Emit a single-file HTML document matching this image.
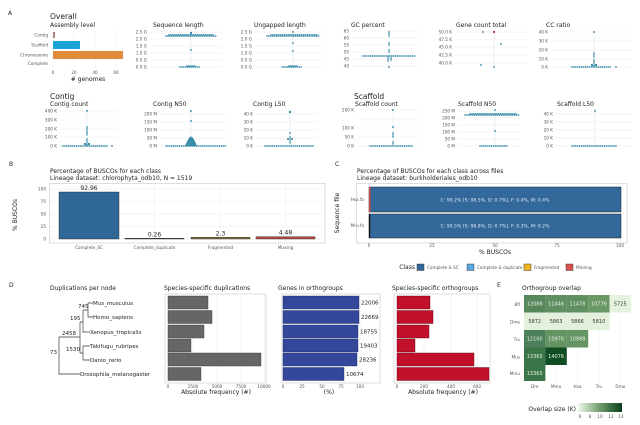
<!DOCTYPE html>
<html><head><meta charset="utf-8"><style>
html,body{margin:0;padding:0;background:#fff;}
svg{display:block;font-family:"DejaVu Sans","Liberation Sans",sans-serif;}
.t{font-size:4.2px;fill:#555;}
.tr{font-size:4.2px;fill:#555;text-anchor:end;}
.ti{font-size:6px;fill:#222;}
.h{font-size:7.5px;fill:#222;}
.g{stroke:#ececec;stroke-width:0.5;}
.d{stroke:#3b8eaa;stroke-width:1.7;stroke-linecap:round;stroke-dasharray:0.01 1.9;fill:none;}
.v{stroke:#d8e6ec;stroke-width:0.5;}
.p{fill:#2a7f9e;}
.tree{stroke:#666;stroke-width:0.9;fill:none;}
.lab{font-size:5.5px;fill:#222;}
.cell{font-size:5px;text-anchor:middle;}
</style></head><body>
<svg width="640" height="425" viewBox="0 0 640 425">
<!-- ===== A ===== -->
<text x="8" y="15" class="ti" font-size="6">A</text>
<text x="50" y="19" class="h">Overall</text>
<text x="50" y="27" class="ti">Assembly level</text>
<g class="g"><line x1="53" y1="30" x2="53" y2="68"/><line x1="74" y1="30" x2="74" y2="68"/><line x1="95" y1="30" x2="95" y2="68"/><line x1="116" y1="30" x2="116" y2="68"/></g>
<rect x="53" y="32" width="2" height="6" fill="#b08878"/>
<rect x="53" y="41" width="27" height="8" fill="#1ba3d9"/>
<rect x="53" y="51" width="70" height="8" fill="#e08a3c"/>
<text x="48" y="36.5" class="tr">Contig</text>
<text x="48" y="46.5" class="tr">Scaffold</text>
<text x="48" y="56.5" class="tr">Chromosome</text>
<text x="48" y="65" class="tr">Complete</text>
<text x="53" y="74" class="t" text-anchor="middle">0</text><text x="74" y="74" class="t" text-anchor="middle">20</text><text x="95" y="74" class="t" text-anchor="middle">40</text><text x="116" y="74" class="t" text-anchor="middle">60</text>
<text x="88" y="81" class="ti" font-size="5.5" text-anchor="middle"># genomes</text>

<!-- Sequence length -->
<text x="153" y="27" class="ti">Sequence length</text>
<g class="g"><line x1="150" y1="32" x2="222" y2="32"/><line x1="150" y1="39" x2="222" y2="39"/><line x1="150" y1="46" x2="222" y2="46"/><line x1="150" y1="53" x2="222" y2="53"/><line x1="150" y1="60" x2="222" y2="60"/><line x1="150" y1="67" x2="222" y2="67"/></g>
<line class="v" x1="191" y1="30" x2="191" y2="68"/>
<text x="147" y="33.5" class="tr">2.5 G</text><text x="147" y="40.5" class="tr">2.0 G</text><text x="147" y="47.5" class="tr">1.5 G</text><text x="147" y="54.5" class="tr">1.0 G</text><text x="147" y="61.5" class="tr">0.5 G</text><text x="147" y="68.5" class="tr">0.0 G</text>
<line class="d" x1="166" y1="36" x2="217" y2="36"/><line class="d" x1="169" y1="34.8" x2="214" y2="34.8"/>
<line class="d" x1="180" y1="67" x2="201" y2="67"/><line class="d" x1="187" y1="66" x2="195" y2="66"/>
<circle class="p" cx="191" cy="33" r="1.1"/><circle class="p" cx="191" cy="50" r="0.9"/>

<!-- Ungapped -->
<text x="254" y="27" class="ti">Ungapped length</text>
<g class="g"><line x1="255" y1="32" x2="322" y2="32"/><line x1="255" y1="39" x2="322" y2="39"/><line x1="255" y1="46" x2="322" y2="46"/><line x1="255" y1="53" x2="322" y2="53"/><line x1="255" y1="60" x2="322" y2="60"/><line x1="255" y1="67" x2="322" y2="67"/></g>
<line class="v" x1="293" y1="30" x2="293" y2="68"/>
<text x="252" y="33.5" class="tr">2.5 G</text><text x="252" y="40.5" class="tr">2.0 G</text><text x="252" y="47.5" class="tr">1.5 G</text><text x="252" y="54.5" class="tr">1.0 G</text><text x="252" y="61.5" class="tr">0.5 G</text><text x="252" y="68.5" class="tr">0.0 G</text>
<line class="d" x1="267" y1="36" x2="320" y2="36"/><line class="d" x1="271" y1="34.8" x2="317" y2="34.8"/>
<line class="d" x1="282" y1="67" x2="303" y2="67"/><line class="d" x1="289" y1="66" x2="297" y2="66"/>
<circle class="p" cx="293" cy="32" r="0.9"/><circle class="p" cx="293" cy="43" r="0.9"/><circle class="p" cx="293" cy="51" r="0.9"/>

<!-- GC percent -->
<text x="351" y="27" class="ti">GC percent</text>
<g class="g"><line x1="352" y1="31" x2="418" y2="31"/><line x1="352" y1="38" x2="418" y2="38"/><line x1="352" y1="45" x2="418" y2="45"/><line x1="352" y1="52" x2="418" y2="52"/><line x1="352" y1="59" x2="418" y2="59"/><line x1="352" y1="66" x2="418" y2="66"/></g>
<line class="v" x1="389" y1="30" x2="389" y2="68"/>
<text x="349" y="32.5" class="tr">65</text><text x="349" y="39.5" class="tr">60</text><text x="349" y="46.5" class="tr">55</text><text x="349" y="53.5" class="tr">50</text><text x="349" y="60.5" class="tr">45</text><text x="349" y="67.5" class="tr">40</text>
<line class="d" x1="363" y1="56" x2="415" y2="56"/>
<line class="d" x1="389" y1="32" x2="389" y2="36"/><line class="d" x1="389" y1="43" x2="389" y2="46"/><line class="d" x1="389" y1="50" x2="389" y2="53"/><line class="d" x1="388" y1="57" x2="388" y2="62"/><line class="d" x1="391" y1="58" x2="391" y2="61"/>
<circle class="p" cx="389" cy="67" r="0.9"/>

<!-- Gene count total -->
<text x="456" y="27" class="ti">Gene count total</text>
<g class="g"><line x1="455" y1="32" x2="528" y2="32"/><line x1="455" y1="39.5" x2="528" y2="39.5"/><line x1="455" y1="47" x2="528" y2="47"/><line x1="455" y1="55" x2="528" y2="55"/><line x1="455" y1="63" x2="528" y2="63"/></g>
<line class="v" x1="494" y1="30" x2="494" y2="68"/>
<text x="452" y="33.5" class="tr">50.0 K</text><text x="452" y="41" class="tr">47.5 K</text><text x="452" y="48.5" class="tr">45.0 K</text><text x="452" y="56.5" class="tr">42.5 K</text><text x="452" y="64.5" class="tr">40.0 K</text>
<circle class="p" cx="483" cy="32" r="0.9"/><circle cx="494" cy="32" r="1.1" fill="#c0303a"/><circle class="p" cx="501" cy="44" r="0.9"/><circle class="p" cx="481" cy="65" r="0.9"/><circle class="p" cx="494" cy="67" r="0.9"/>

<!-- CC ratio -->
<text x="546" y="27" class="ti">CC ratio</text>
<g class="g"><line x1="551" y1="32" x2="632" y2="32"/><line x1="551" y1="41" x2="632" y2="41"/><line x1="551" y1="50" x2="632" y2="50"/><line x1="551" y1="59" x2="632" y2="59"/><line x1="551" y1="67" x2="632" y2="67"/></g>
<line class="v" x1="594" y1="30" x2="594" y2="68"/>
<text x="548" y="33.5" class="tr">40 K</text><text x="548" y="42.5" class="tr">30 K</text><text x="548" y="51.5" class="tr">20 K</text><text x="548" y="60.5" class="tr">10 K</text><text x="548" y="68.5" class="tr">0 K</text>
<line class="d" x1="572" y1="67" x2="612" y2="67"/><circle class="p" cx="616" cy="67" r="0.9"/>
<line class="d" x1="594" y1="60" x2="594" y2="66"/><line class="d" x1="594" y1="53" x2="594" y2="57"/><circle class="p" cx="594" cy="32" r="0.9"/><circle class="p" cx="596" cy="65" r="1.1"/><circle class="p" cx="592" cy="65" r="1.1"/>

<!-- Row 2 -->
<text x="50" y="99" class="h">Contig</text>
<text x="50" y="106" class="ti">Contig count</text>
<g class="g"><line x1="60" y1="111" x2="118" y2="111"/><line x1="60" y1="120" x2="118" y2="120"/><line x1="60" y1="129" x2="118" y2="129"/><line x1="60" y1="137" x2="118" y2="137"/><line x1="60" y1="146" x2="118" y2="146"/></g>
<line class="v" x1="87" y1="109" x2="87" y2="147"/>
<text x="57" y="112.5" class="tr">400 K</text><text x="57" y="121.5" class="tr">300 K</text><text x="57" y="130.5" class="tr">200 K</text><text x="57" y="138.5" class="tr">100 K</text><text x="57" y="147.5" class="tr">0 K</text>
<line class="d" x1="63" y1="146" x2="108" y2="146"/><circle class="p" cx="112" cy="146" r="0.9"/>
<line class="d" x1="87" y1="127" x2="87" y2="135"/><line class="d" x1="87" y1="139" x2="87" y2="145"/><circle class="p" cx="87" cy="111" r="0.9"/><circle class="p" cx="89" cy="144" r="1.1"/><circle class="p" cx="85" cy="144" r="1.1"/>

<text x="153" y="106" class="ti">Contig N50</text>
<g class="g"><line x1="160" y1="114" x2="228" y2="114"/><line x1="160" y1="122" x2="228" y2="122"/><line x1="160" y1="130" x2="228" y2="130"/><line x1="160" y1="138" x2="228" y2="138"/><line x1="160" y1="146" x2="228" y2="146"/></g>
<line class="v" x1="191" y1="109" x2="191" y2="147"/>
<text x="157" y="115.5" class="tr">200 M</text><text x="157" y="123.5" class="tr">150 M</text><text x="157" y="131.5" class="tr">100 M</text><text x="157" y="139.5" class="tr">50 M</text><text x="157" y="147.5" class="tr">0 M</text>
<line class="d" x1="166" y1="146" x2="226" y2="146"/>
<path d="M185 146 Q187 141 189 138 Q191 135 193 138 Q195 141 197 146 Z" fill="#3b8eaa"/>
<circle class="p" cx="191" cy="111" r="0.9"/><circle class="p" cx="191" cy="121" r="0.9"/>

<text x="253" y="106" class="ti">Contig L50</text>
<g class="g"><line x1="256" y1="114" x2="318" y2="114"/><line x1="256" y1="122" x2="318" y2="122"/><line x1="256" y1="130" x2="318" y2="130"/><line x1="256" y1="138" x2="318" y2="138"/><line x1="256" y1="146" x2="318" y2="146"/></g>
<line class="v" x1="290" y1="109" x2="290" y2="147"/>
<text x="253" y="115.5" class="tr">40 K</text><text x="253" y="123.5" class="tr">30 K</text><text x="253" y="131.5" class="tr">20 K</text><text x="253" y="139.5" class="tr">10 K</text><text x="253" y="147.5" class="tr">0 K</text>
<line class="d" x1="265" y1="146" x2="313" y2="146"/>
<circle class="p" cx="290" cy="112" r="1.1"/><circle class="p" cx="290" cy="133" r="0.9"/><line class="d" x1="290" y1="137" x2="290" y2="144"/><circle class="p" cx="288" cy="139" r="1"/><circle class="p" cx="292" cy="139" r="1"/>

<text x="354" y="99" class="h">Scaffold</text>
<text x="355" y="106" class="ti">Scaffold count</text>
<g class="g"><line x1="357" y1="110" x2="418" y2="110"/><line x1="357" y1="119" x2="418" y2="119"/><line x1="357" y1="128" x2="418" y2="128"/><line x1="357" y1="137" x2="418" y2="137"/><line x1="357" y1="146" x2="418" y2="146"/></g>
<line class="v" x1="393" y1="109" x2="393" y2="147"/>
<text x="354" y="111.5" class="tr">200 K</text><text x="354" y="129.5" class="tr">100 K</text><text x="354" y="138.5" class="tr">50 K</text><text x="354" y="147.5" class="tr">0 K</text>
<line class="d" x1="370" y1="146" x2="413" y2="146"/>
<circle class="p" cx="393" cy="110" r="0.9"/><circle class="p" cx="393" cy="127" r="0.9"/><line class="d" x1="393" y1="133" x2="393" y2="137"/><line class="d" x1="393" y1="142" x2="393" y2="145"/>

<text x="458" y="106" class="ti">Scaffold N50</text>
<g class="g"><line x1="458" y1="111" x2="520" y2="111"/><line x1="458" y1="118" x2="520" y2="118"/><line x1="458" y1="125" x2="520" y2="125"/><line x1="458" y1="132" x2="520" y2="132"/><line x1="458" y1="139" x2="520" y2="139"/><line x1="458" y1="146" x2="520" y2="146"/></g>
<line class="v" x1="495" y1="109" x2="495" y2="147"/>
<text x="455" y="112.5" class="tr">250 M</text><text x="455" y="119.5" class="tr">200 M</text><text x="455" y="126.5" class="tr">150 M</text><text x="455" y="133.5" class="tr">100 M</text><text x="455" y="140.5" class="tr">50 M</text><text x="455" y="147.5" class="tr">0 M</text>
<line class="d" x1="465" y1="115" x2="520" y2="115"/><line class="d" x1="470" y1="113.8" x2="516" y2="113.8"/>
<line class="d" x1="480" y1="146" x2="507" y2="146"/><circle class="p" cx="495" cy="131" r="0.9"/><circle class="p" cx="495" cy="110" r="0.9"/>

<text x="557" y="106" class="ti">Scaffold L50</text>
<g class="g"><line x1="556" y1="114" x2="632" y2="114"/><line x1="556" y1="122" x2="632" y2="122"/><line x1="556" y1="130" x2="632" y2="130"/><line x1="556" y1="138" x2="632" y2="138"/><line x1="556" y1="146" x2="632" y2="146"/></g>
<line class="v" x1="595" y1="109" x2="595" y2="147"/>
<text x="553" y="115.5" class="tr">40 K</text><text x="553" y="123.5" class="tr">30 K</text><text x="553" y="131.5" class="tr">20 K</text><text x="553" y="139.5" class="tr">10 K</text><text x="553" y="147.5" class="tr">0 K</text>
<line class="d" x1="572" y1="146" x2="617" y2="146"/><circle class="p" cx="595" cy="111" r="0.9"/>

<!-- ===== B ===== -->
<text x="9" y="166" class="ti">B</text>
<text x="50" y="173" class="ti">Percentage of BUSCOs for each class</text>
<text x="50" y="180" class="ti" font-size="4.6">Lineage dataset: chlorophyta_odb10, N = 1519</text>
<rect x="49.5" y="183.5" width="275.5" height="59.5" fill="#fff" stroke="#c8c8c8" stroke-width="0.6"/>
<g class="g"><line x1="50" y1="189" x2="325" y2="189"/><line x1="50" y1="201.5" x2="325" y2="201.5"/><line x1="50" y1="214" x2="325" y2="214"/><line x1="50" y1="226.5" x2="325" y2="226.5"/><line x1="50" y1="239" x2="325" y2="239"/>
<line x1="89" y1="184" x2="89" y2="243"/><line x1="154.5" y1="184" x2="154.5" y2="243"/><line x1="220.5" y1="184" x2="220.5" y2="243"/><line x1="285.5" y1="184" x2="285.5" y2="243"/></g>
<text x="46" y="190.5" class="tr">100</text><text x="46" y="203" class="tr">75</text><text x="46" y="215.5" class="tr">50</text><text x="46" y="228" class="tr">25</text><text x="46" y="240.5" class="tr">0</text>
<text transform="translate(17,215) rotate(-90)" class="ti" font-size="5" text-anchor="middle">% BUSCOs</text>
<rect x="59" y="192" width="60" height="47" fill="#2f6797" stroke="#222" stroke-width="0.4"/>
<rect x="125" y="238.2" width="59" height="0.8" fill="#3c5474" stroke="#222" stroke-width="0.4"/>
<rect x="191" y="237.3" width="59" height="1.7" fill="#8a6a30" stroke="#222" stroke-width="0.4"/>
<rect x="256" y="236.7" width="59" height="2.3" fill="#b5463b" stroke="#222" stroke-width="0.4"/>
<text x="89" y="190" class="ti" font-size="5.2" text-anchor="middle">92.96</text>
<text x="154.5" y="236.5" class="ti" font-size="5.2" text-anchor="middle">0.26</text>
<text x="220.5" y="235.5" class="ti" font-size="5.2" text-anchor="middle">2.3</text>
<text x="285.5" y="234.5" class="ti" font-size="5.2" text-anchor="middle">4.48</text>
<text x="89" y="249" class="t" text-anchor="middle">Complete_SC</text><text x="154.5" y="249" class="t" text-anchor="middle">Complete_duplicate</text><text x="220.5" y="249" class="t" text-anchor="middle">Fragmented</text><text x="285.5" y="249" class="t" text-anchor="middle">Missing</text>

<!-- ===== C ===== -->
<text x="335" y="166" class="ti">C</text>
<text x="357" y="173" class="ti">Percentage of BUSCOs for each class across files</text>
<text x="357" y="180" class="ti" font-size="4.6">Lineage dataset: burkholderiales_odb10</text>
<rect x="356.5" y="183.5" width="270.5" height="59.5" fill="#fff" stroke="#c8c8c8" stroke-width="0.6"/>
<g class="g"><line x1="369" y1="184" x2="369" y2="243"/><line x1="432" y1="184" x2="432" y2="243"/><line x1="495" y1="184" x2="495" y2="243"/><line x1="557" y1="184" x2="557" y2="243"/><line x1="620" y1="184" x2="620" y2="243"/></g>
<rect x="369" y="187" width="252" height="25" fill="#33689b" stroke="#222" stroke-width="0.5"/>
<rect x="369" y="187" width="1.5" height="25" fill="#c84a3e"/>
<rect x="369" y="214" width="252" height="24" fill="#33689b" stroke="#222" stroke-width="0.5"/>
<rect x="369" y="214" width="1.2" height="24" fill="#111"/>
<text x="495" y="201.5" font-size="4.6" fill="#dfe8f2" text-anchor="middle">C: 99.2% [S: 98.5%, D: 0.7%], F: 0.4%, M: 0.4%</text>
<text x="495" y="227.5" font-size="4.6" fill="#dfe8f2" text-anchor="middle">C: 99.5% [S: 98.8%, D: 0.7%], F: 0.3%, M: 0.2%</text>
<text x="364" y="201" class="tr">Hsa.fa</text><text x="364" y="227" class="tr">Mru.fa</text>
<text transform="translate(339,213) rotate(-90)" class="ti" font-size="5" text-anchor="middle">Sequence file</text>
<text x="369" y="247" class="t" text-anchor="middle">0</text><text x="432" y="247" class="t" text-anchor="middle">25</text><text x="495" y="247" class="t" text-anchor="middle">50</text><text x="557" y="247" class="t" text-anchor="middle">75</text><text x="620" y="247" class="t" text-anchor="middle">100</text>
<text x="495" y="254" class="ti" font-size="5" text-anchor="middle">% BUSCOs</text>
<text x="415" y="269" class="ti" font-size="4.8" text-anchor="end">Class</text>
<rect x="417" y="264" width="7" height="6.5" fill="#33689b" stroke="#222" stroke-width="0.4"/><text x="427" y="269" class="t" font-size="3.8">Complete &amp; SC</text>
<rect x="467" y="264" width="7" height="6.5" fill="#5aa7de" stroke="#222" stroke-width="0.4"/><text x="477" y="269" class="t" font-size="3.8">Complete &amp; duplicate</text>
<rect x="524" y="264" width="7" height="6.5" fill="#f0b323" stroke="#222" stroke-width="0.4"/><text x="534" y="269" class="t" font-size="3.8">Fragmented</text>
<rect x="566" y="264" width="7" height="6.5" fill="#d9534f" stroke="#222" stroke-width="0.4"/><text x="576" y="269" class="t" font-size="3.8">Missing</text>

<!-- ===== D ===== -->
<text x="9" y="287" class="ti">D</text>
<text x="50" y="290" class="ti">Duplications per node</text>
<path class="tree" d="M59 337V374H80M59 337H80M80 322V353M80 322H83M83 310V332H90M83 310H88M88 303V317M88 303H93M88 317H93M80 353H83M83 346V360M83 346H90M83 360H90"/>
<text x="93" y="305" class="lab">Mus_musculus</text>
<text x="93" y="319" class="lab">Homo_sapiens</text>
<text x="90" y="334" class="lab">Xenopus_tropicalis</text>
<text x="90" y="348" class="lab">Takifugu_rubripes</text>
<text x="90" y="362" class="lab">Danio_rerio</text>
<text x="80" y="376" class="lab">Drosophila_melanogaster</text>
<text x="78" y="308" class="lab">745</text>
<text x="70" y="320" class="lab">195</text>
<text x="62" y="335" class="lab">2458</text>
<text x="66" y="351" class="lab">1530</text>
<text x="50" y="354" class="lab">73</text>

<!-- dup bars -->
<text x="164" y="290" class="ti">Species-specific duplications</text>
<rect x="165" y="294" width="101" height="89" fill="#fff" stroke="#c8c8c8" stroke-width="0.6"/>
<g class="g"><line x1="168" y1="294" x2="168" y2="383"/><line x1="193" y1="294" x2="193" y2="383"/><line x1="217" y1="294" x2="217" y2="383"/><line x1="241" y1="294" x2="241" y2="383"/><line x1="265" y1="294" x2="265" y2="383"/></g>
<g fill="#666" stroke="#333" stroke-width="0.4">
<rect x="168" y="296" width="40" height="13"/><rect x="168" y="310.5" width="44" height="13"/><rect x="168" y="325" width="36" height="13"/><rect x="168" y="339" width="23" height="13"/><rect x="168" y="353" width="93" height="13"/><rect x="168" y="367.5" width="33" height="13"/></g>
<text x="168" y="388" class="t" text-anchor="middle">0</text><text x="193" y="388" class="t" text-anchor="middle">2500</text><text x="217" y="388" class="t" text-anchor="middle">5000</text><text x="241" y="388" class="t" text-anchor="middle">7500</text><text x="264" y="388" class="t" text-anchor="middle">10000</text>
<text x="216" y="394" class="ti" font-size="5" text-anchor="middle">Absolute frequency (#)</text>

<!-- genes in orthogroups -->
<text x="278" y="290" class="ti">Genes in orthogroups</text>
<rect x="282" y="294" width="98" height="89" fill="#fff" stroke="#c8c8c8" stroke-width="0.6"/>
<g class="g"><line x1="283" y1="294" x2="283" y2="383"/><line x1="302" y1="294" x2="302" y2="383"/><line x1="322" y1="294" x2="322" y2="383"/><line x1="341" y1="294" x2="341" y2="383"/><line x1="360" y1="294" x2="360" y2="383"/></g>
<g fill="#34479a" stroke="#1c2660" stroke-width="0.4">
<rect x="283" y="296" width="76" height="13"/><rect x="283" y="310.5" width="76" height="13"/><rect x="283" y="325" width="75" height="13"/><rect x="283" y="339" width="75" height="13"/><rect x="283" y="353" width="74" height="13"/><rect x="283" y="367.5" width="61" height="13"/></g>
<g class="lab" font-size="5"><text x="361" y="304.5">22006</text><text x="361" y="319">22669</text><text x="360" y="333.5">18755</text><text x="360" y="347.5">19403</text><text x="359" y="361.5">28236</text><text x="346" y="376">10674</text></g>
<text x="283" y="388" class="t" text-anchor="middle">0</text><text x="302" y="388" class="t" text-anchor="middle">25</text><text x="322" y="388" class="t" text-anchor="middle">50</text><text x="341" y="388" class="t" text-anchor="middle">75</text><text x="360" y="388" class="t" text-anchor="middle">100</text>
<text x="329" y="394" class="ti" font-size="5" text-anchor="middle">(%)</text>

<!-- species-specific orthogroups -->
<text x="392" y="290" class="ti">Species-specific orthogroups</text>
<rect x="394" y="294" width="96" height="89" fill="#fff" stroke="#c8c8c8" stroke-width="0.6"/>
<g class="g"><line x1="397" y1="294" x2="397" y2="383"/><line x1="424" y1="294" x2="424" y2="383"/><line x1="451" y1="294" x2="451" y2="383"/><line x1="477" y1="294" x2="477" y2="383"/></g>
<g fill="#c0102a" stroke="#5a0010" stroke-width="0.4">
<rect x="397" y="296" width="33" height="13"/><rect x="397" y="310.5" width="36" height="13"/><rect x="397" y="325" width="32" height="13"/><rect x="397" y="339" width="18" height="13"/><rect x="397" y="353" width="77" height="13"/><rect x="397" y="367.5" width="92" height="13"/></g>
<text x="397" y="388" class="t" text-anchor="middle">0</text><text x="424" y="388" class="t" text-anchor="middle">200</text><text x="451" y="388" class="t" text-anchor="middle">400</text><text x="477" y="388" class="t" text-anchor="middle">600</text>
<text x="443" y="394" class="ti" font-size="5" text-anchor="middle">Absolute frequency (#)</text>

<!-- ===== E ===== -->
<text x="497" y="287" class="ti">E</text>
<text x="522" y="290" class="ti">Orthogroup overlap</text>
<g class="g"><line x1="535" y1="295" x2="535" y2="381"/><line x1="556.5" y1="295" x2="556.5" y2="381"/><line x1="578" y1="295" x2="578" y2="381"/><line x1="599" y1="295" x2="599" y2="381"/><line x1="620.5" y1="295" x2="620.5" y2="381"/></g>
<g>
<rect x="524" y="295" width="21.4" height="17.5" fill="#55875b"/><rect x="545.4" y="295" width="21.4" height="17.5" fill="#60905f"/><rect x="566.8" y="295" width="21.4" height="17.5" fill="#60905f"/><rect x="588.2" y="295" width="21.4" height="17.5" fill="#6a9766"/><rect x="609.6" y="295" width="21.4" height="17.5" fill="#e5f2de"/>
<rect x="524" y="312.5" width="21.4" height="17.5" fill="#e3f1dc"/><rect x="545.4" y="312.5" width="21.4" height="17.5" fill="#e3f1dc"/><rect x="566.8" y="312.5" width="21.4" height="17.5" fill="#e3f1dc"/><rect x="588.2" y="312.5" width="21.4" height="17.5" fill="#e3f1dc"/>
<rect x="524" y="330" width="21.4" height="17.5" fill="#4c805a"/><rect x="545.4" y="330" width="21.4" height="17.5" fill="#659463"/><rect x="566.8" y="330" width="21.4" height="17.5" fill="#659463"/>
<rect x="524" y="347.5" width="21.4" height="17.5" fill="#3a7547"/><rect x="545.4" y="347.5" width="21.4" height="17.5" fill="#0f4d23"/>
<rect x="524" y="365" width="21.4" height="16" fill="#3a7547"/>
</g>
<g class="cell" fill="#e8f0e8">
<text x="534.7" y="305.5">12088</text><text x="556.1" y="305.5">11446</text><text x="577.5" y="305.5">11478</text><text x="598.9" y="305.5">10776</text><text x="620.3" y="305.5" fill="#333">5725</text>
<text x="534.7" y="323" fill="#333">5872</text><text x="556.1" y="323" fill="#333">5863</text><text x="577.5" y="323" fill="#333">5866</text><text x="598.9" y="323" fill="#333">5810</text>
<text x="534.7" y="340.5">12100</text><text x="556.1" y="340.5">10976</text><text x="577.5" y="340.5">10988</text>
<text x="534.7" y="358">13365</text><text x="556.1" y="358">14076</text>
<text x="534.7" y="375">13365</text></g>
<text x="520" y="306" class="tr">Bfl</text><text x="520" y="323.5" class="tr">Dme</text><text x="520" y="341" class="tr">Tru</text><text x="520" y="358.5" class="tr">Mus</text><text x="520" y="375" class="tr">Mmu</text>
<text x="534.7" y="388" class="t" text-anchor="middle">Dre</text><text x="556.1" y="388" class="t" text-anchor="middle">Mmu</text><text x="577.5" y="388" class="t" text-anchor="middle">Hsa</text><text x="598.9" y="388" class="t" text-anchor="middle">Tru</text><text x="620.3" y="388" class="t" text-anchor="middle">Dme</text>
<defs><linearGradient id="gr" x1="0" x2="1" y1="0" y2="0"><stop offset="0" stop-color="#f2f8ee"/><stop offset="0.5" stop-color="#6f9c6c"/><stop offset="1" stop-color="#0a3f1a"/></linearGradient></defs>
<text x="576" y="411" class="ti" font-size="4.6" text-anchor="end">Overlap size (K)</text>
<rect x="578" y="403" width="44" height="9" fill="url(#gr)"/>
<text x="580" y="418" class="t" text-anchor="middle">6</text><text x="590" y="418" class="t" text-anchor="middle">8</text><text x="600" y="418" class="t" text-anchor="middle">10</text><text x="611" y="418" class="t" text-anchor="middle">12</text><text x="621" y="418" class="t" text-anchor="middle">14</text>
</svg>
</body></html>
